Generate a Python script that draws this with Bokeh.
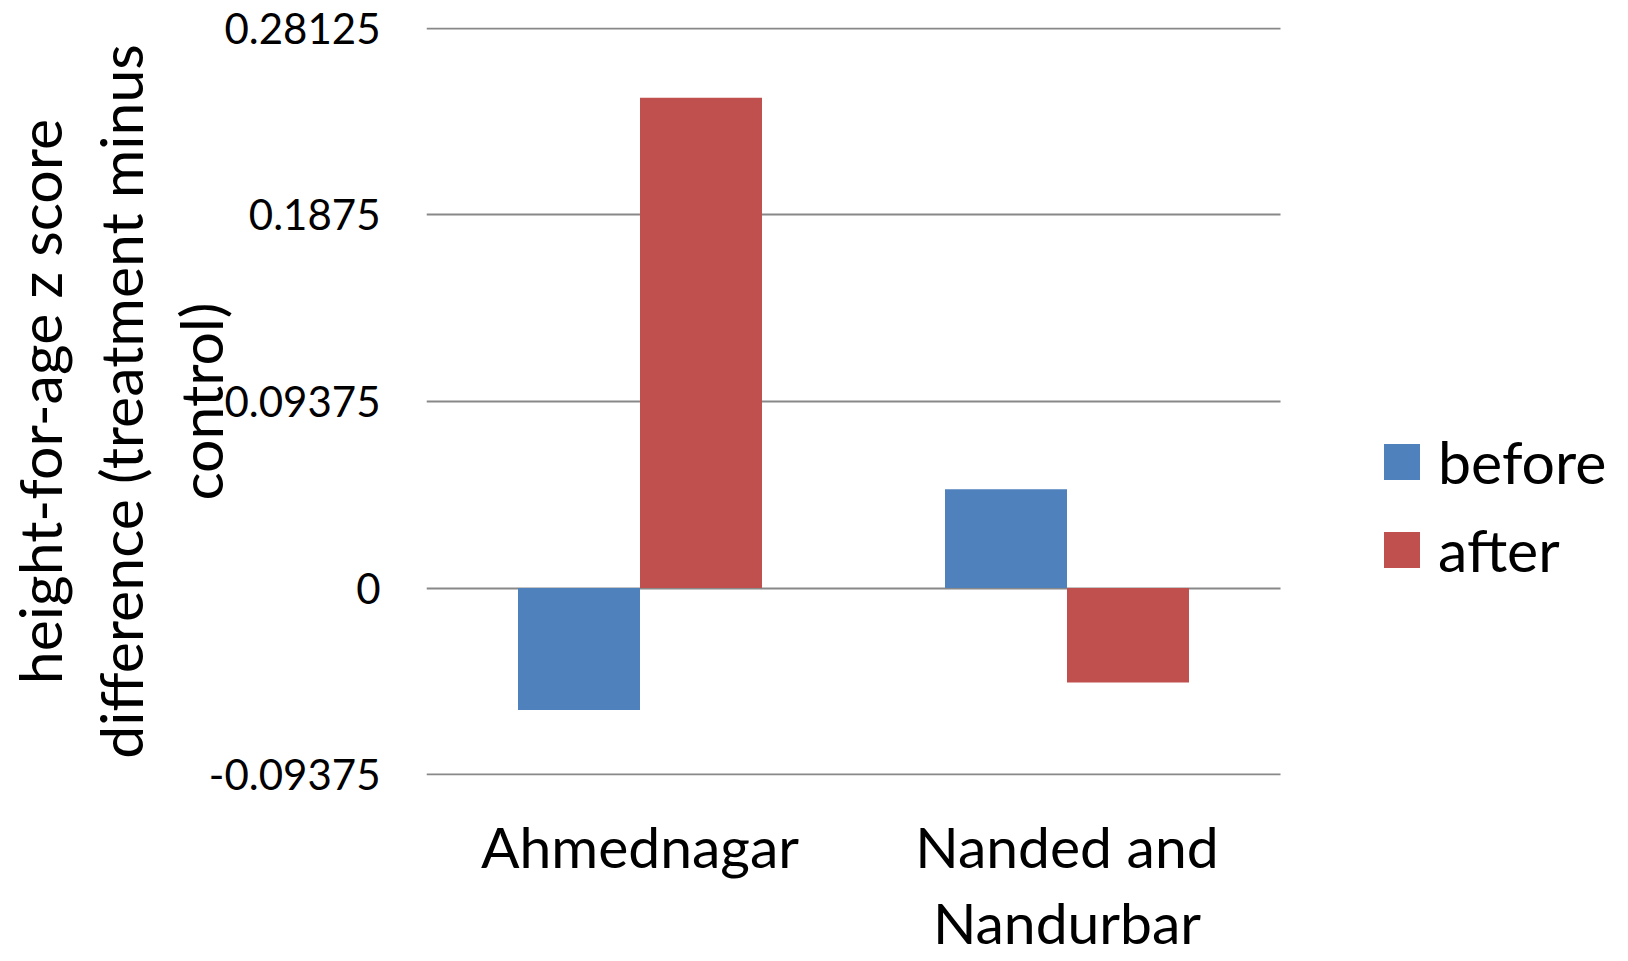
from bokeh.plotting import figure
from bokeh.models import (Range1d, FixedTicker, Legend, LegendItem,
                          ColumnDataSource, Grid)
from bokeh.transform import dodge
from bokeh.embed import file_html
from bokeh.resources import INLINE

# ---- data ----
categories = ["Ahmednagar", "Nanded and\nNandurbar"]
series_names = ["before", "after"]
before = [-0.0613, 0.0496]
after = [0.2465, -0.0475]
y_ticks = [-0.09375, 0, 0.09375, 0.1875, 0.28125]
y_tick_labels = ["-0.09375", "0", "0.09375", "0.1875", "0.28125"]
y_title_lines = ["height-for-age z score", "difference (treatment minus", "control)"]

# ---- style ----
FONT = "Lato"
BLUE = "#4F81BD"
RED = "#C0504D"
GRID = "#888888"

# category slots 0..n, centre of each slot at i + 0.5
cat_pos = [i + 0.5 for i in range(len(categories))]
src = ColumnDataSource(dict(pos=cat_pos, before=before, after=after))

n = len(categories)
x_extent = n * 1202 / 854          # room to the right of the categories for the legend
pad = 0.0005
p = figure(x_range=Range1d(0, x_extent),
           y_range=Range1d(y_ticks[0] - pad, y_ticks[-1] + pad),
           width=1628, height=961, output_backend="svg", toolbar_location=None,
           title=None, min_border_left=426, min_border_right=0,
           min_border_top=27, min_border_bottom=186)
p.outline_line_color = None
p.background_fill_color = "white"
p.border_fill_color = "white"

bw = 0.2857
r1 = p.vbar(x=dodge("pos", -bw / 2), top="before", bottom=0,
            width=bw, source=src, fill_color=BLUE, line_color=None)
r2 = p.vbar(x=dodge("pos", bw / 2), top="after", bottom=0,
            width=bw, source=src, fill_color=RED, line_color=None)

# grid
p.xgrid.grid_line_color = None
p.ygrid.ticker = FixedTicker(ticks=y_ticks)
if "cross_bounds" in Grid.properties():
    p.ygrid.grid_line_color = GRID
    p.ygrid.grid_line_width = 2
    p.ygrid.cross_bounds = (0, n)
else:
    p.ygrid.grid_line_color = None
    p.segment(x0=0, x1=n, y0=y_ticks, y1=y_ticks, line_color=GRID,
              line_width=2, level="underlay")

# axes
p.yaxis.ticker = FixedTicker(ticks=y_ticks)
p.yaxis.major_label_overrides = {t: l for t, l in zip(y_ticks, y_tick_labels)}
p.xaxis.ticker = FixedTicker(ticks=cat_pos)
p.xaxis.major_label_overrides = {x: c for x, c in zip(cat_pos, categories)}
for ax in (p.xaxis[0], p.yaxis[0]):
    ax.axis_line_color = None
    ax.major_tick_line_color = None
    ax.minor_tick_line_color = None
    ax.major_label_text_font = FONT
    ax.major_label_text_color = "black"
p.yaxis.major_label_text_font_size = "42px"
p.yaxis.major_label_standoff = 40
p.xaxis.major_tick_out = 0
p.xaxis.minor_tick_out = 0
p.xaxis.major_label_text_font_size = "57px"
p.xaxis.major_label_standoff = 36
p.xaxis.major_label_text_line_height = 1.12

p.yaxis.axis_label = "\n".join(y_title_lines)
p.yaxis.axis_label_text_font = FONT
p.yaxis.axis_label_text_font_style = "normal"
p.yaxis.axis_label_text_font_size = "59px"
p.yaxis.axis_label_text_color = "black"
p.yaxis.axis_label_text_line_height = 1.13
p.yaxis.axis_label_standoff = -30

legend = Legend(items=[LegendItem(label=series_names[0], renderers=[r1]),
                       LegendItem(label=series_names[1], renderers=[r2])],
                location=(953, 190), padding=0, margin=0, spacing=17,
                glyph_width=45, glyph_height=45, label_standoff=14,
                label_text_font=FONT, label_text_font_size="59px",
                label_text_color="black", border_line_color=None,
                background_fill_alpha=0)
p.add_layout(legend)

open("out.html", "w").write(file_html(p, INLINE))
